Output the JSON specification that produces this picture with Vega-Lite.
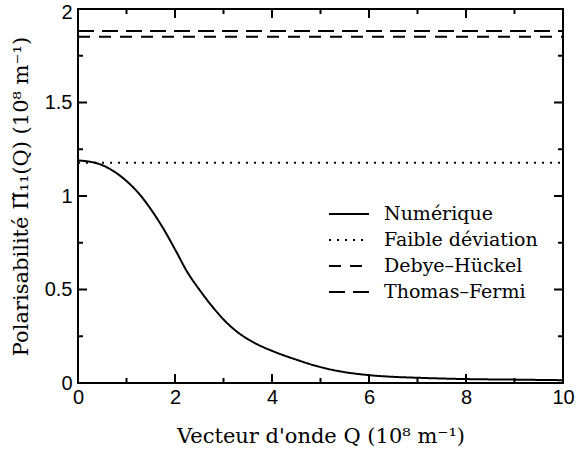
{
  "$schema": "https://vega.github.io/schema/vega-lite/v6.json",
  "width": 485,
  "height": 374,
  "autosize": "none",
  "padding": {"left": 78, "top": 9, "right": 19, "bottom": 74},
  "background": "white",
  "config": {
    "view": {"stroke": "black", "strokeWidth": 2},
    "axis": {"domain": false, "grid": false, "ticks": false, "labelColor": "black", "titleColor": "black"}
  },
  "datasets": {
    "curves": [
      {"Q": 0, "v": 1.19, "s": "Numérique"},
      {"Q": 0.25, "v": 1.183, "s": "Numérique"},
      {"Q": 0.5, "v": 1.165, "s": "Numérique"},
      {"Q": 0.75, "v": 1.13, "s": "Numérique"},
      {"Q": 1.0, "v": 1.08, "s": "Numérique"},
      {"Q": 1.25, "v": 1.015, "s": "Numérique"},
      {"Q": 1.5, "v": 0.93, "s": "Numérique"},
      {"Q": 1.75, "v": 0.83, "s": "Numérique"},
      {"Q": 2.0, "v": 0.715, "s": "Numérique"},
      {"Q": 2.25, "v": 0.595, "s": "Numérique"},
      {"Q": 2.5, "v": 0.5, "s": "Numérique"},
      {"Q": 2.75, "v": 0.415, "s": "Numérique"},
      {"Q": 3.0, "v": 0.34, "s": "Numérique"},
      {"Q": 3.25, "v": 0.28, "s": "Numérique"},
      {"Q": 3.5, "v": 0.235, "s": "Numérique"},
      {"Q": 3.75, "v": 0.2, "s": "Numérique"},
      {"Q": 4.0, "v": 0.172, "s": "Numérique"},
      {"Q": 4.5, "v": 0.125, "s": "Numérique"},
      {"Q": 5.0, "v": 0.085, "s": "Numérique"},
      {"Q": 5.5, "v": 0.058, "s": "Numérique"},
      {"Q": 6.0, "v": 0.042, "s": "Numérique"},
      {"Q": 6.5, "v": 0.033, "s": "Numérique"},
      {"Q": 7.0, "v": 0.028, "s": "Numérique"},
      {"Q": 8.0, "v": 0.021, "s": "Numérique"},
      {"Q": 9.0, "v": 0.018, "s": "Numérique"},
      {"Q": 10.0, "v": 0.015, "s": "Numérique"},
      {"Q": 0, "v": 1.178, "s": "Faible déviation"},
      {"Q": 10, "v": 1.178, "s": "Faible déviation"},
      {"Q": 0, "v": 1.852, "s": "Debye–Hückel"},
      {"Q": 10, "v": 1.852, "s": "Debye–Hückel"},
      {"Q": 0, "v": 1.882, "s": "Thomas–Fermi"},
      {"Q": 10, "v": 1.882, "s": "Thomas–Fermi"}
    ],
    "xmajor": [{"Q": 0}, {"Q": 2}, {"Q": 4}, {"Q": 6}, {"Q": 8}, {"Q": 10}],
    "xminor": [{"Q": 1}, {"Q": 3}, {"Q": 5}, {"Q": 7}, {"Q": 9}],
    "ymajor": [{"v": 0}, {"v": 0.5}, {"v": 1}, {"v": 1.5}, {"v": 2}],
    "yminor": [{"v": 0.25}, {"v": 0.75}, {"v": 1.25}, {"v": 1.75}]
  },
  "layer": [
    {
      "data": {"name": "curves"},
      "mark": {"type": "line", "color": "black", "strokeWidth": 2, "interpolate": "monotone"},
      "encoding": {
        "x": {
          "field": "Q", "type": "quantitative",
          "scale": {"domain": [0, 10], "nice": false},
          "axis": {
            "orient": "bottom",
            "values": [0, 2, 4, 6, 8, 10],
            "labelPadding": 4,
            "labelFlush": false,
            "labelFont": "Liberation Sans", "labelFontSize": 20,
            "title": "Vecteur d'onde Q (10⁸ m⁻¹)",
            "titleFont": "DejaVu Serif", "titleFontSize": 21, "titleFontWeight": "normal",
            "titlePadding": 18
          }
        },
        "y": {
          "field": "v", "type": "quantitative",
          "scale": {"domain": [0, 2], "nice": false},
          "axis": {
            "orient": "left",
            "values": [0, 0.5, 1, 1.5, 2],
            "format": "~g",
            "labelOffset": {"condition": {"test": "datum.value === 2", "value": 3}, "value": 0},
            "labelPadding": 6,
            "labelFlush": false,
            "labelFont": "Liberation Sans", "labelFontSize": 20,
            "title": "Polarisabilité Π̃₁₁(Q) (10⁸ m⁻¹)",
            "titleFont": "DejaVu Serif", "titleFontSize": 21, "titleFontWeight": "normal",
            "titlePadding": 13
          }
        },
        "strokeDash": {
          "field": "s", "type": "nominal",
          "scale": {
            "domain": ["Numérique", "Faible déviation", "Debye–Hückel", "Thomas–Fermi"],
            "range": [[1, 0], [2, 6], [12, 9], [16, 8]]
          },
          "legend": {
            "title": null,
            "orient": "none",
            "legendX": 250,
            "legendY": 192,
            "symbolType": "stroke",
            "symbolSize": 1600,
            "symbolStrokeWidth": 2,
            "symbolStrokeColor": "black",
            "labelFont": "DejaVu Serif",
            "labelFontSize": 19,
            "labelColor": "black",
            "labelOffset": 14,
            "clipHeight": 26,
            "rowPadding": 0
          }
        }
      }
    },
    {
      "data": {"name": "xmajor"},
      "mark": {"type": "rule", "color": "black", "strokeWidth": 2},
      "encoding": {
        "x": {"field": "Q", "type": "quantitative", "axis": null},
        "y": {"datum": 0, "type": "quantitative", "axis": null},
        "y2": {"datum": 0.048}
      }
    },
    {
      "data": {"name": "xminor"},
      "mark": {"type": "rule", "color": "black", "strokeWidth": 2},
      "encoding": {
        "x": {"field": "Q", "type": "quantitative", "axis": null},
        "y": {"datum": 0, "type": "quantitative", "axis": null},
        "y2": {"datum": 0.027}
      }
    },
    {
      "data": {"name": "xmajor"},
      "mark": {"type": "rule", "color": "black", "strokeWidth": 2},
      "encoding": {
        "x": {"field": "Q", "type": "quantitative", "axis": null},
        "y": {"datum": 2, "type": "quantitative", "axis": null},
        "y2": {"datum": 1.952}
      }
    },
    {
      "data": {"name": "xminor"},
      "mark": {"type": "rule", "color": "black", "strokeWidth": 2},
      "encoding": {
        "x": {"field": "Q", "type": "quantitative", "axis": null},
        "y": {"datum": 2, "type": "quantitative", "axis": null},
        "y2": {"datum": 1.973}
      }
    },
    {
      "data": {"name": "ymajor"},
      "mark": {"type": "rule", "color": "black", "strokeWidth": 2},
      "encoding": {
        "y": {"field": "v", "type": "quantitative", "axis": null},
        "x": {"datum": 0, "type": "quantitative", "axis": null},
        "x2": {"datum": 0.186}
      }
    },
    {
      "data": {"name": "yminor"},
      "mark": {"type": "rule", "color": "black", "strokeWidth": 2},
      "encoding": {
        "y": {"field": "v", "type": "quantitative", "axis": null},
        "x": {"datum": 0, "type": "quantitative", "axis": null},
        "x2": {"datum": 0.103}
      }
    },
    {
      "data": {"name": "ymajor"},
      "mark": {"type": "rule", "color": "black", "strokeWidth": 2},
      "encoding": {
        "y": {"field": "v", "type": "quantitative", "axis": null},
        "x": {"datum": 10, "type": "quantitative", "axis": null},
        "x2": {"datum": 9.814}
      }
    },
    {
      "data": {"name": "yminor"},
      "mark": {"type": "rule", "color": "black", "strokeWidth": 2},
      "encoding": {
        "y": {"field": "v", "type": "quantitative", "axis": null},
        "x": {"datum": 10, "type": "quantitative", "axis": null},
        "x2": {"datum": 9.897}
      }
    }
  ],
  "resolve": {"axis": {"x": "independent", "y": "independent"}}
}
